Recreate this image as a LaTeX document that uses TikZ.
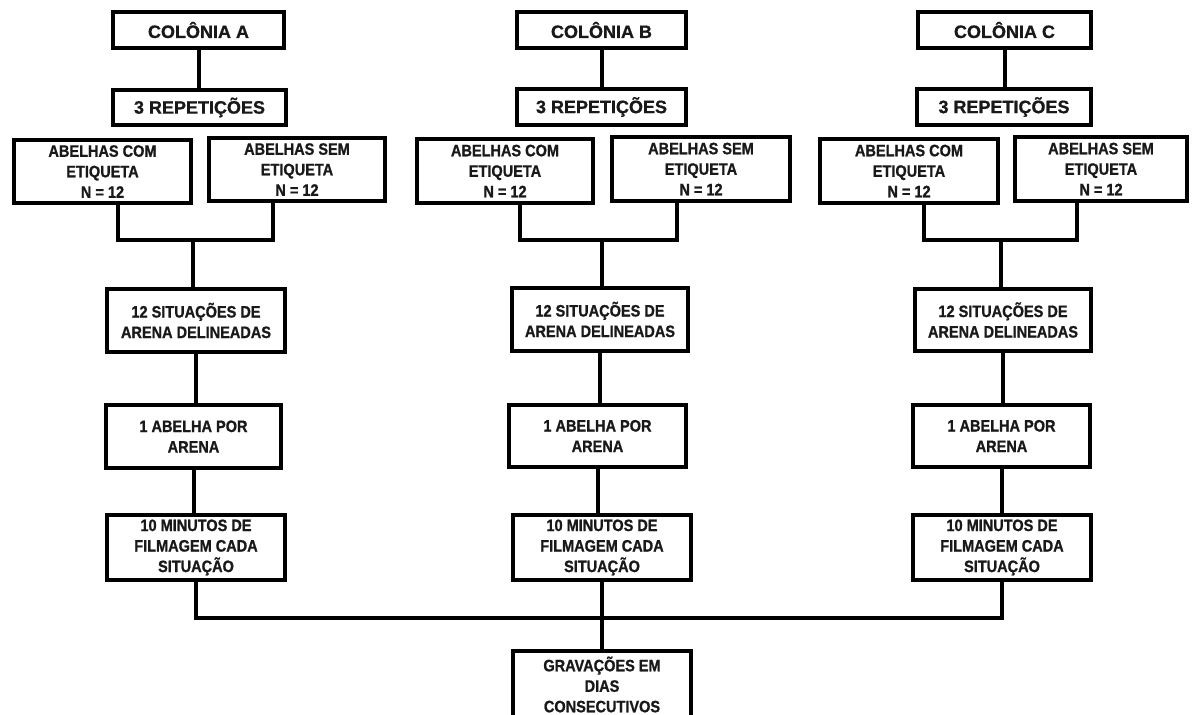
\documentclass[tikz,border=0pt]{standalone}
\usepackage{fontspec}
\setmainfont{Liberation Sans}[FakeBold=0.8]
\newfontfamily\condfont{Liberation Sans}[FakeStretch=0.88,FakeBold=1]
\newcommand{\headfnt}{\fontsize{18}{21}\selectfont\bfseries}
\newcommand{\bodyfnt}{\condfont\fontsize{16.5}{20.5}\selectfont\bfseries}
\newcommand{\mybox}[7][box]{%
  \node[#1, minimum width={#4-#2-3.5}, minimum height={#5-#3-3.5}]
    (#6) at ({(#2+#4)/2},{(#3+#5)/2}) {#7};}
\tikzset{
  box/.style={draw=black, line width=4pt, inner sep=0pt, align=center,
    font=\bodyfnt, text=black!90},
  head/.style={box, font=\headfnt},
  conn/.style={draw=black, line width=4pt},
}
\begin{document}
\begin{tikzpicture}[x=1pt,y=-1pt]
\useasboundingbox (0,0) rectangle (1192,715);
\fill[white] (0,0) rectangle (1192,715);
% Column A
\mybox[head]{111}{10}{286}{50}{colA}{COLÔNIA A}
\mybox[head]{111}{88}{288}{127}{repA}{3 REPETIÇÕES}
\mybox{12}{138}{193}{205}{comA}{ABELHAS COM\\ETIQUETA\\N = 12}
\mybox{207}{136}{387}{203}{semA}{ABELHAS SEM\\ETIQUETA\\N = 12}
\mybox{105}{287}{287}{354}{sitA}{12 SITUAÇÕES DE\\ARENA DELINEADAS}
\mybox{104}{403}{283}{470}{abA}{1 ABELHA POR\\ARENA}
\mybox{105}{513}{287}{582}{minA}{10 MINUTOS DE\\FILMAGEM CADA\\SITUAÇÃO}
% Column B
\mybox[head]{515}{10}{688}{50}{colB}{COLÔNIA B}
\mybox[head]{515}{87}{688}{127}{repB}{3 REPETIÇÕES}
\mybox{415}{137}{595}{205}{comB}{ABELHAS COM\\ETIQUETA\\N = 12}
\mybox{610}{135}{792}{203}{semB}{ABELHAS SEM\\ETIQUETA\\N = 12}
\mybox{510}{286}{690}{353}{sitB}{12 SITUAÇÕES DE\\ARENA DELINEADAS}
\mybox{507}{403}{688}{469}{abB}{1 ABELHA POR\\ARENA}
\mybox{511}{513}{693}{582}{minB}{10 MINUTOS DE\\FILMAGEM CADA\\SITUAÇÃO}
\mybox{511}{649}{693}{720}{grav}{GRAVAÇÕES EM\\DIAS\\CONSECUTIVOS}
% Column C
\mybox[head]{916}{10}{1093}{50}{colC}{COLÔNIA C}
\mybox[head]{915}{87}{1093}{127}{repC}{3 REPETIÇÕES}
\mybox{818}{137}{1000}{205}{comC}{ABELHAS COM\\ETIQUETA\\N = 12}
\mybox{1013}{135}{1189}{203}{semC}{ABELHAS SEM\\ETIQUETA\\N = 12}
\mybox{913}{287}{1093}{353}{sitC}{12 SITUAÇÕES DE\\ARENA DELINEADAS}
\mybox{911}{403}{1092}{469}{abC}{1 ABELHA POR\\ARENA}
\mybox{911}{513}{1093}{582}{minC}{10 MINUTOS DE\\FILMAGEM CADA\\SITUAÇÃO}
% junctions
\coordinate (jA) at (193,240);
\coordinate (jB) at (602,240);
\coordinate (jC) at (1001,240);
\coordinate (bus) at (602,618);
% connectors
\foreach \c in {A,B,C}{
  \draw[conn] (col\c.south) -- (col\c.south |- rep\c.north);
  \draw[conn] ([xshift=15pt]com\c.south) |- (j\c);
  \draw[conn] ([xshift=-24pt]sem\c.south) |- (j\c);
  \draw[conn] (j\c) -- (j\c |- sit\c.north);
  \draw[conn] (sit\c.south) -- (sit\c.south |- ab\c.north);
  \draw[conn] (ab\c.south) -- (ab\c.south |- min\c.north);
}
\draw[conn] (minA.south) |- (bus);
\draw[conn] (minC.south) |- (bus);
\draw[conn] (minB.south) -- (grav.north);
\end{tikzpicture}
\end{document}
